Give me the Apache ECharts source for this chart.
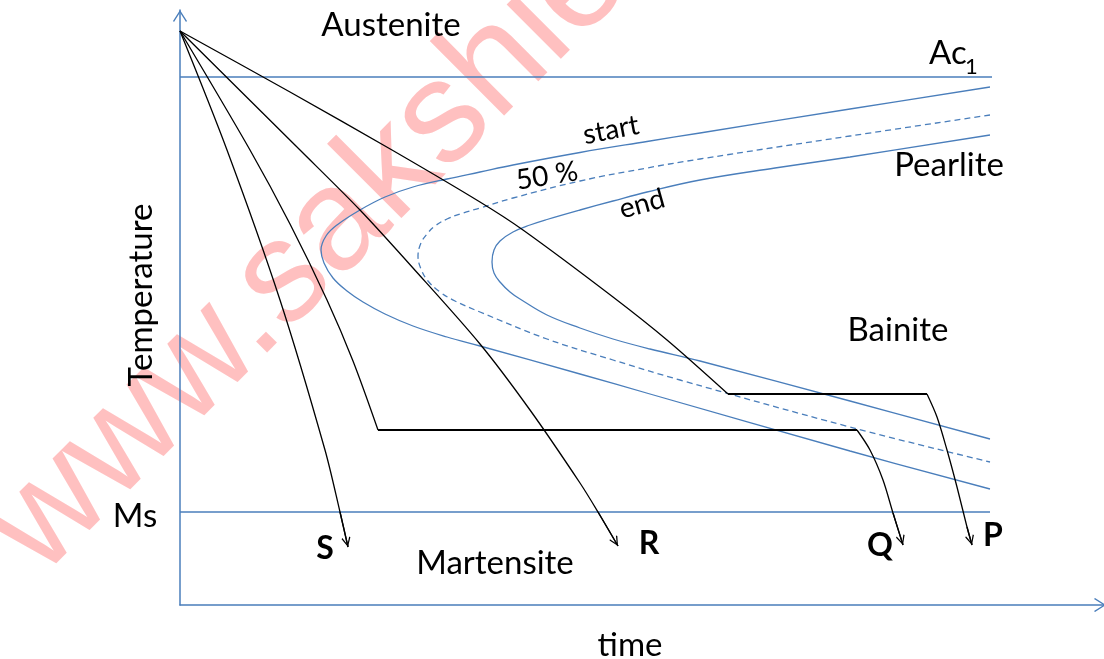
<!DOCTYPE html>
<html>
<head>
<meta charset="utf-8">
<script src="https://cdn.jsdelivr.net/npm/echarts@6/dist/echarts.min.js"></script>
<style>
html,body{margin:0;padding:0;background:#ffffff;}
#chart{width:1104px;height:659px;}
</style>
</head>
<body>
<div id="chart"></div>
<script>
// ---- data (time on x, temperature on y; arbitrary diagram units) ----
const ac1Line = [[0, 528], [812, 528]];
const msLine = [[0, 93], [810, 93]];

const startCurve = [[810,518],[670,496],[520,472],[467,463.5],[400,452.5],[333,440],[300,433],[267,426],[233,418],[205,408],[180,395],[157,380],[146,369],[141,355],[144,342],[153,327],[167,314],[183,303],[205,291],[233,279],[267,268],[300,259],[400,231],[470,211],[670,154],[810,116]];
const halfCurve = [[810,490],[670,469],[520,446],[467,437],[400,424],[333,407],[300,397],[283,392],[267,386],[255,379],[247,371],[241,362],[238,349],[241,336],[248,324],[260,313],[275,304],[300,293],[367,266],[433,245],[500,225],[670,178],[810,143]];
const endCurve = [[810,470],[670,448],[595,437],[520,425],[467,413],[433,404],[400,395],[367,385.5],[350,380],[333,373],[320,364],[314,355],[312,343],[314,332],[320,323],[330,313],[340,306],[367,290],[400,277],[433,266],[470,256],[520,244],[670,204],[810,166]];

const pathS = [[0,574],[47,455],[100,305],[145,155],[160,93],[168,58]];
const pathR = [[0,574],[120,455],[180,395],[233,337],[300,261],[350,195],[400,122],[418,93],[438,59]];
const pathQCool = [[0,574],[70,455],[110,381],[147,305],[173,244],[198,175]];
const pathQQuench = [[677,175],[690,155],[703,125],[713,92],[723,60]];
const pathPCool = [[0,574],[110,513],[212,455],[300,403],[343,375],[433,308],[487,265],[548,211]];
const pathPQuench = [[747,211],[757,188],[767,155],[777,118],[787,78],[792,60]];

// ---- styling ----
const BLUE = '#4A7EBB';
const BLACK = '#000000';
const FONT = 'Lato, "Open Sans", sans-serif';
const axisArrow = 'path://M7,0 L14,11 L13,12 L7,2.4 L1,12 L0,11 Z';
const curveArrow = 'path://M4.5,-10 L4.5,-9.9 Z M4.5,0 L9,9 L8,10 L4.5,2.6 L1,10 L0,9 Z';

function lineSeries(data, color, opts) {
  opts = opts || {};
  const s = {
    type: 'line',
    data: data,
    showSymbol: false,
    symbol: 'none',
    smooth: opts.smooth || false,
    silent: true,
    animation: false,
    emphasis: {disabled: true},
    lineStyle: {color: color, width: opts.width || 1.3, type: opts.dash || 'solid'},
    z: 3
  };
  if (opts.arrow) {
    const n = data.length;
    s.markLine = {
      silent: true,
      animation: false,
      symbol: ['none', curveArrow],
      symbolSize: [9, 20],
      label: {show: false},
      emphasis: {disabled: true},
      lineStyle: {color: color, width: opts.width || 1.3, type: 'solid'},
      data: [[{coord: data[n - 2]}, {coord: data[n - 1]}]]
    };
  }
  return s;
}

const hold = (a, b) => [a[a.length - 1], b[0]];

const labels = [
  {t: 'Austenite', x: 391, y: 25, s: 33},
  {t: 'Ac', x: 929, y: 53, s: 33, align: 'left'},
  {t: '1', x: 965, y: 67, s: 22, align: 'left'},
  {t: 'Pearlite', x: 949, y: 165, s: 33},
  {t: 'Bainite', x: 898, y: 330, s: 33},
  {t: 'Ms', x: 135, y: 516, s: 33},
  {t: 'Martensite', x: 495, y: 563, s: 33},
  {t: 'time', x: 630, y: 645, s: 33},
  {t: 'Temperature', x: 141, y: 295, s: 33, rot: Math.PI / 2},
  {t: 'start', x: 611, y: 130, s: 28, rot: 0.19},
  {t: '50 %', x: 547, y: 176, s: 28, rot: 0.16},
  {t: 'end', x: 642, y: 204, s: 28, rot: 0.27},
  {t: 'S', x: 325, y: 549, s: 32, b: true},
  {t: 'R', x: 649, y: 544, s: 32, b: true},
  {t: 'Q', x: 880, y: 546, s: 32, b: true},
  {t: 'P', x: 993, y: 536, s: 32, b: true}
];

const graphics = [{
  type: 'text',
  x: 13, y: 550,
  rotation: Math.PI / 4,
  z: 0,
  silent: true,
  style: {
    text: 'www.sakshieducation.com',
    fontSize: 145,
    fontFamily: '"Liberation Sans", Arial, sans-serif',
    fill: '#FFC0C0',
    align: 'left',
    verticalAlign: 'middle'
  }
}].concat(labels.map(l => ({
  type: 'text',
  x: l.x, y: l.y,
  rotation: l.rot || 0,
  z: 100,
  silent: true,
  style: {
    text: l.t,
    fontSize: l.s,
    fontFamily: FONT,
    fontWeight: l.b ? 'bold' : 'normal',
    fill: BLACK,
    align: l.align || 'center',
    verticalAlign: 'middle'
  }
})));

const chart = echarts.init(document.getElementById('chart'));
chart.setOption({
  animation: false,
  backgroundColor: '#ffffff',
  grid: {left: 180, right: 0, top: 10, bottom: 54},
  xAxis: {
    type: 'value', min: 0, max: 924,
    axisLine: {show: true, onZero: false, lineStyle: {color: BLUE, width: 1.5},
      symbol: ['none', axisArrow], symbolSize: [14, 12], symbolOffset: [0, -4]},
    axisTick: {show: false}, axisLabel: {show: false}, splitLine: {show: false}
  },
  yAxis: {
    type: 'value', min: 0, max: 595,
    axisLine: {show: true, onZero: false, lineStyle: {color: BLUE, width: 1.5},
      symbol: ['none', axisArrow], symbolSize: [14, 12], symbolOffset: [0, -6]},
    axisTick: {show: false}, axisLabel: {show: false}, splitLine: {show: false}
  },
  graphic: {elements: graphics},
  series: [
    lineSeries(ac1Line, BLUE),
    lineSeries(msLine, BLUE),
    lineSeries(startCurve, BLUE, {smooth: 0.4}),
    lineSeries(halfCurve, BLUE, {smooth: 0.4, dash: [6, 4]}),
    lineSeries(endCurve, BLUE, {smooth: 0.4}),
    lineSeries(pathS, BLACK, {smooth: 0.3, arrow: true}),
    lineSeries(pathR, BLACK, {smooth: 0.3, arrow: true}),
    lineSeries(pathQCool, BLACK, {smooth: 0.3}),
    lineSeries(hold(pathQCool, pathQQuench), BLACK, {width: 1.8}),
    lineSeries(pathQQuench, BLACK, {smooth: 0.3, arrow: true}),
    lineSeries(pathPCool, BLACK, {smooth: 0.3}),
    lineSeries(hold(pathPCool, pathPQuench), BLACK, {width: 1.8}),
    lineSeries(pathPQuench, BLACK, {smooth: 0.3, arrow: true})
  ]
});
</script>
</body>
</html>
